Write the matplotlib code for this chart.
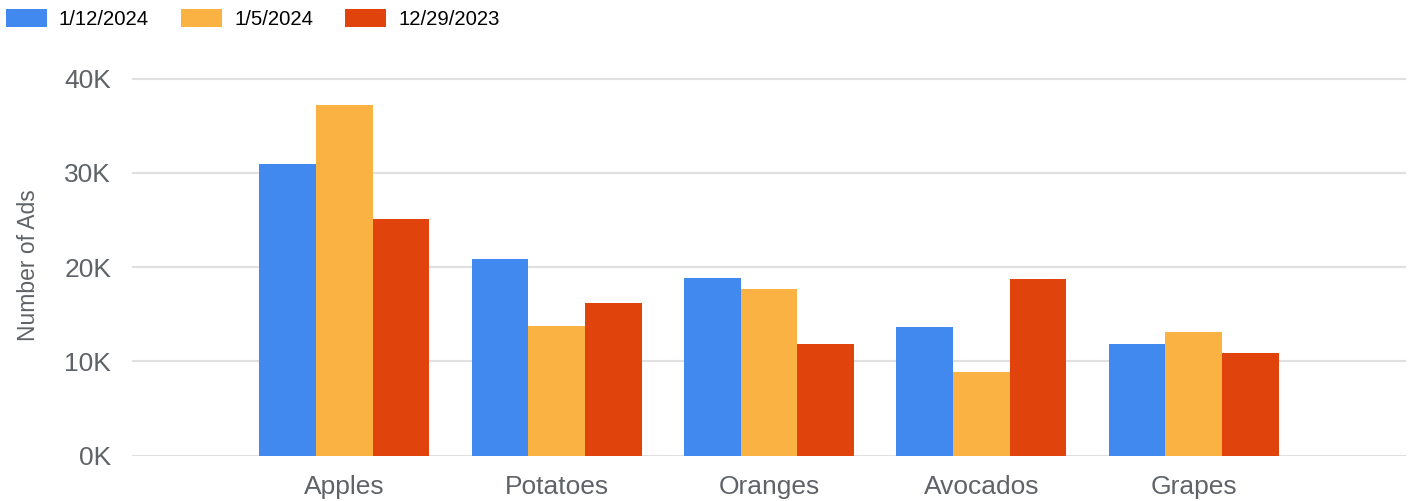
import numpy as np
import matplotlib.pyplot as plt
from matplotlib.ticker import FuncFormatter

plt.rcParams['font.family'] = ['Liberation Sans', 'DejaVu Sans']

# data (number of ads)
categories = ['Apples', 'Potatoes', 'Oranges', 'Avocados', 'Grapes']
series_names = ['1/12/2024', '1/5/2024', '12/29/2023']
week_0112 = [31000, 20900, 18900, 13700, 11800]
week_0105 = [37200, 13750, 17700, 8850, 13100]
week_1229 = [25100, 16200, 11800, 18800, 10900]
colors = ['#4289EF', '#FAB342', '#E0430B']

fig = plt.figure(figsize=(14.08, 5.01), dpi=100)
ax = fig.add_axes([132 / 1408, 45.3 / 501, 1274 / 1408, (455.7 - 74) / 501])

x = np.arange(len(categories))
bw = 0.2667
for i, (vals, name) in enumerate(zip([week_0112, week_0105, week_1229], series_names)):
    ax.bar(x + (i - 1) * bw, vals, width=bw, color=colors[i], label=name,
           zorder=3, edgecolor='none')

ax.set_xlim(-1, 5)
ax.set_ylim(0, 40500)
ax.set_yticks([0, 10000, 20000, 30000, 40000])
ax.yaxis.set_major_formatter(FuncFormatter(lambda v, p: '%dK' % (v / 1000)))
ax.set_xticks(x)
ax.set_xticklabels(categories)

ax.grid(axis='y', color='#e0e0e0', linewidth=1.5, zorder=0)
for s in ax.spines.values():
    s.set_visible(False)
ax.tick_params(axis='both', length=0, labelsize=19, labelcolor='#5f6368')
ax.tick_params(axis='y', pad=15)
ax.tick_params(axis='x', pad=14)

ax.set_ylabel('Number of Ads', fontsize=16.5, color='#5f6368')
ax.yaxis.set_label_coords(-0.072, 0.5)

fig.legend(loc='upper left', bbox_to_anchor=(6 / 1408, 1 - 9 / 501), ncol=3,
           frameon=False, fontsize=14.6, handlelength=2.0, handleheight=1.0,
           handletextpad=0.6, columnspacing=1.6, borderpad=0, borderaxespad=0)

plt.savefig('out.png', dpi=100)
